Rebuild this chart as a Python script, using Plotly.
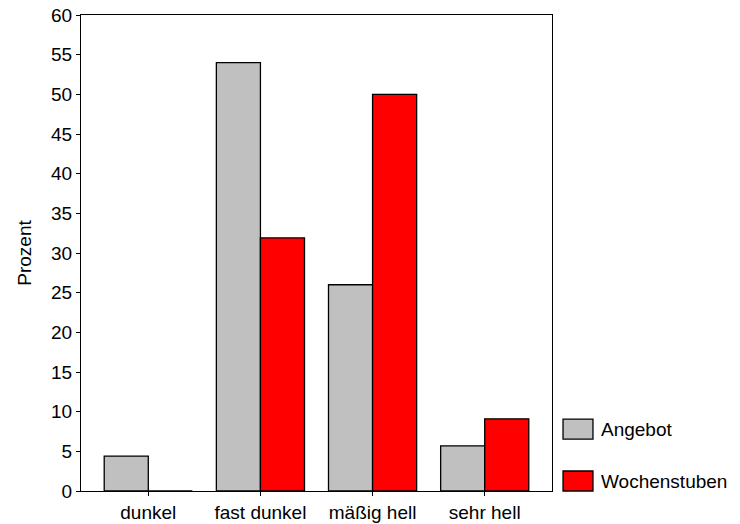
import plotly.graph_objects as go

categories = ["dunkel", "fast dunkel", "mäßig hell", "sehr hell"]
angebot = [4.4, 54.0, 26.0, 5.7]
wochenstuben = [0.0, 31.9, 50.0, 9.1]
y_ticks = [0, 5, 10, 15, 20, 25, 30, 35, 40, 45, 50, 55, 60]

font = dict(family="Liberation Sans, Arial, sans-serif", size=19, color="black")

fig = go.Figure()
fig.add_trace(go.Bar(x=categories, y=angebot, name="Angebot",
                     marker=dict(color="#C0C0C0", line=dict(color="black", width=1.3))))
fig.add_trace(go.Bar(x=categories, y=wochenstuben, name="Wochenstuben",
                     marker=dict(color="#FF0000", line=dict(color="black", width=1.3))))

fig.update_layout(
    width=740, height=524,
    margin=dict(l=81, r=188, t=15, b=33, autoexpand=False),
    paper_bgcolor="white", plot_bgcolor="white",
    barmode="group", bargap=0.214, bargroupgap=0,
    font=font, showlegend=False,
)
fig.update_xaxes(range=[-0.6, 3.6], showline=True, linecolor="black", linewidth=1,
                 mirror=True, ticks="outside", ticklen=4, tickcolor="black",
                 showgrid=False, tickfont=font, automargin=False,
                 ticklabeloverflow="allow")
fig.update_yaxes(range=[0, 60], tickvals=y_ticks, showline=True, linecolor="black",
                 linewidth=1, mirror=True, ticks="outside", ticklen=4, tickcolor="black",
                 showgrid=False, zeroline=False, tickfont=font, automargin=False,
                 ticklabeloverflow="allow",
                 title=dict(text="Prozent", font=font, standoff=14))

# custom legend
legend_items = [("Angebot", "#C0C0C0", 0.109), ("Wochenstuben", "#FF0000", 0.0)]
for name, color, ypos in legend_items:
    fig.add_shape(type="rect", xref="paper", yref="paper",
                  x0=1.0234, x1=1.087, y0=ypos, y1=ypos + 0.042,
                  fillcolor=color, line=dict(color="black", width=1.3))
    fig.add_annotation(text=name, xref="paper", yref="paper", x=1.1, y=ypos + 0.021,
                       xanchor="left", yanchor="middle", showarrow=False, font=font)

fig.write_html("out.html", config={"displayModeBar": False},
               post_script="document.body.style.margin='0';")
